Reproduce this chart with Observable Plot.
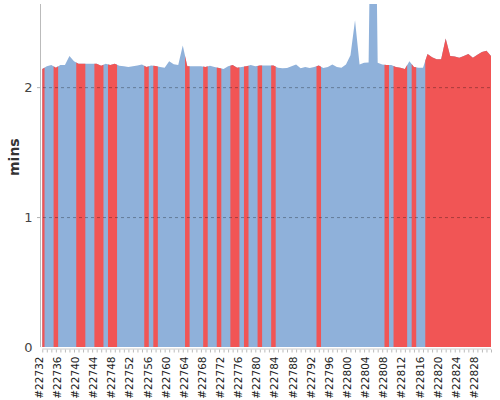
<!DOCTYPE html>
<html><head><meta charset="utf-8">
<script src="https://cdn.jsdelivr.net/npm/d3@7"></script>
<script src="https://cdn.jsdelivr.net/npm/@observablehq/plot@0.6"></script>
<style>body{margin:0;background:#fff;}</style>
</head><body><div id="chart"></div>
<script>
const firstBuild = 22732;
const durations = [
  2.14, 2.16, 2.17, 2.15, 2.17, 2.17, 2.24, 2.20, 2.18, 2.18,
  2.18, 2.18, 2.18, 2.165, 2.18, 2.17, 2.18, 2.165, 2.16, 2.155,
  2.16, 2.167, 2.175, 2.155, 2.167, 2.163, 2.156, 2.15, 2.20, 2.177,
  2.17, 2.32, 2.16, 2.16, 2.16, 2.16, 2.156, 2.165, 2.156, 2.148,
  2.14, 2.16, 2.17, 2.15, 2.156, 2.16, 2.17, 2.16, 2.167, 2.167,
  2.167, 2.167, 2.15, 2.146, 2.148, 2.16, 2.175, 2.146, 2.155, 2.148,
  2.156, 2.167, 2.148, 2.156, 2.175, 2.156, 2.15, 2.175, 2.246, 2.515,
  2.175, 2.187, 2.19, 5.0, 2.187, 2.175, 2.17, 2.17, 2.156, 2.15,
  2.14, 2.2, 2.156, 2.15, 2.15, 2.256, 2.23, 2.215, 2.215, 2.375,
  2.24, 2.236, 2.226, 2.24, 2.256, 2.226, 2.25, 2.27, 2.28, 2.24
];
const failedBuilds = [
  22732, 22735, 22740, 22741, 22744, 22745, 22747, 22748, 22755, 22757,
  22764, 22768, 22771, 22774, 22775, 22777, 22780, 22783, 22793, 22808,
  22810, 22811, 22812, 22814, 22817, 22818, 22819, 22820, 22821, 22822,
  22823, 22824, 22825, 22826, 22827, 22828, 22829, 22830, 22831
];
const statusNames = ["success", "failure"];
const statusColors = ["#8fb1da", "#f15555"];
const yTicks = [0, 1, 2];
const yMax = 2.64;
const labelStep = 4;

const builds = durations.map((_, i) => firstBuild + i);
const lastBuild = builds[builds.length - 1];
const labelBuilds = builds.filter((b, i) => i % labelStep === 0);
const rows = builds.map((b, i) => ({build: b, mins: durations[i], status: failedBuilds.includes(b) ? "failure" : "success"}));

let run = 0;
rows.forEach((r, i) => { if (i > 0 && r.status !== rows[i - 1].status) run++; r.run = run; });

const basePts = rows.map(r => ({x: r.build, y: r.mins, status: "success", run: -1}));
const failPts = [];
rows.forEach((r, i) => {
  if (r.status !== "failure") return;
  const prev = rows[i - 1], next = rows[i + 1];
  if (prev && prev.run !== r.run) failPts.push({run: r.run, status: r.status, x: r.build - 0.5, y: (prev.mins + r.mins) / 2});
  failPts.push({run: r.run, status: r.status, x: r.build, y: r.mins});
  if (next && next.run !== r.run) failPts.push({run: r.run, status: r.status, x: r.build + 0.5, y: (r.mins + next.mins) / 2});
});

// small downward tick glyph for every build
const tickGlyph = {draw(ctx) { ctx.moveTo(0, 2); ctx.lineTo(0, 5); }};

const chart = Plot.plot({
  width: 500, height: 400,
  marginLeft: 40, marginRight: 9, marginTop: 4, marginBottom: 53,
  style: {fontFamily: "'DejaVu Sans', sans-serif", background: "#fff"},
  x: {type: "linear", domain: [firstBuild - 0.5, lastBuild], axis: null},
  y: {domain: [0, yMax], axis: null},
  color: {domain: statusNames, range: statusColors},
  marks: [
    Plot.areaY(basePts, {x: "x", y1: 0, y2: "y", z: "run", fill: "status", clip: true}),
    Plot.areaY(failPts, {x: "x", y1: 0, y2: "y", z: "run", fill: "status", clip: true}),
    Plot.ruleY(yTicks.filter(d => d > 0), {stroke: "#000", strokeOpacity: 0.3, strokeDasharray: "3,3", insetLeft: -3}),
    Plot.ruleX([firstBuild - 0.5], {stroke: "#bbb"}),
    Plot.ruleY([0], {x1: firstBuild, x2: lastBuild, stroke: "#ccc", dy: 1.5}),
    Plot.text(yTicks, {y: d => d, text: d => String(d), frameAnchor: "left", textAnchor: "end", dx: -8, fontSize: 13, fill: "#444"}),
    Plot.dot(builds, {x: d => d, frameAnchor: "bottom", symbol: tickGlyph, r: 3, fill: "none", stroke: "#bbb", strokeWidth: 1}),
    Plot.text(labelBuilds, {x: d => d, text: d => "#" + d, frameAnchor: "bottom", textAnchor: "end", rotate: -90, dy: 9, fontSize: 10.5, fill: "#222"}),
    Plot.text(["mins"], {frameAnchor: "left", dx: -26, rotate: -90, fontWeight: "bold", fontSize: 14, fill: "#333"})
  ]
});
document.getElementById("chart").appendChild(chart);
</script>
</body></html>
